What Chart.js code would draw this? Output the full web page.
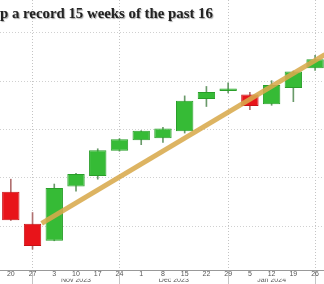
<!DOCTYPE html>
<html>
<head>
<meta charset="utf-8">
<script src="https://cdn.jsdelivr.net/npm/chart.js@4.4.0/dist/chart.umd.min.js"></script>
<style>
  body { margin: 0; background: #fff; }
  #wrap { position: relative; width: 324px; height: 284px; overflow: hidden; }
  #title {
    position: absolute; left: 0; top: 6px;
    font-family: 'Liberation Serif', 'Times New Roman', serif;
    font-weight: bold; font-size: 15px; line-height: 15px;
    color: #222; white-space: nowrap;
    text-shadow: 1px 1px 1px rgba(0,0,0,0.35);
  }
</style>
</head>
<body>
<div id="wrap">
  <canvas id="chart" width="324" height="284"></canvas>
  <div id="title">p a record 15 weeks of the past 16</div>
</div>
<script>
// weekly candles, Oct 20 2023 .. Jan 26 2024
const days = ['20', '27', '3', '10', '17', '24', '1', '8', '15', '22', '29', '5', '12', '19', '26'];
const opens  = [4342, 4210, 4139, 4364, 4407, 4512, 4555, 4564, 4593, 4726, 4759, 4745, 4704, 4772, 4853];
const closes = [4224, 4117, 4358, 4415, 4514, 4559, 4595, 4604, 4719, 4755, 4770, 4697, 4784, 4840, 4891];
const highs  = [4394, 4256, 4374, 4418, 4520, 4562, 4595, 4609, 4739, 4778, 4793, 4754, 4802, 4842, 4907];
const lows   = [4223, 4104, 4139, 4344, 4394, 4510, 4537, 4546, 4585, 4695, 4751, 4682, 4700, 4715, 4844];
const monthEnds = [1, 5, 10, 14];
const months = [{ at: 3, label: 'Nov 2023' }, { at: 7.5, label: 'Dec 2023' }, { at: 12, label: 'Jan 2024' }];
const trendX = [1.42, 14.45];
const trendY = [4211, 4910];

// fit the heading to the width it has in the picture
const title = document.getElementById('title');
const tw = title.getBoundingClientRect().width;
title.style.fontSize = (15 * 213 / tw).toFixed(2) + 'px';

const green = '#36bb36';
const red = '#e8141a';
const upDown = closes.map((c, i) => c >= opens[i]);

const bodies = days.map((d, i) => ({ x: i, y: [opens[i], closes[i]] }));
const wicks = days.map((d, i) => ({ x: i, y: [lows[i], highs[i]] }));
const trend = trendX.map((x, i) => ({ x: x, y: trendY[i] }));

const gridColor = ctx => monthEnds.includes(ctx.tick && ctx.tick.value) ? '#c4c4c4' : 'rgba(0,0,0,0)';

new Chart(document.getElementById('chart'), {
  type: 'bar',
  data: {
    datasets: [
      {
        type: 'line',
        data: trend,
        borderColor: 'rgba(216,170,76,0.88)',
        borderWidth: 5,
        pointRadius: 0,
        order: 0
      },
      {
        data: bodies,
        backgroundColor: upDown.map(u => u ? green : red),
        borderColor: upDown.map(u => u ? '#2a9f2a' : '#c81014'),
        borderWidth: 1,
        borderSkipped: false,
        grouped: false,
        barPercentage: 0.8,
        categoryPercentage: 1,
        order: 1
      },
      {
        data: wicks,
        backgroundColor: upDown.map(u => u ? '#6a9a6a' : '#b07070'),
        barThickness: 1,
        grouped: false,
        order: 2
      }
    ]
  },
  options: {
    responsive: false,
    animation: false,
    layout: { padding: 0, autoPadding: false },
    plugins: { legend: { display: false }, tooltip: { enabled: false } },
    scales: {
      x: {
        type: 'linear',
        offset: false,
        weight: 0,
        min: -0.497,
        max: 14.41,
        afterBuildTicks: axis => { axis.ticks = days.map((d, i) => ({ value: i })); },
        afterFit: axis => { axis.height = 8.7; },
        ticks: {
          callback: v => days[v],
          maxRotation: 0,
          autoSkip: false,
          padding: -13.7,
          color: '#555',
          font: { family: 'Liberation Sans', size: 7 }
        },
        grid: {
          offset: false,
          color: gridColor,
          tickColor: gridColor,
          tickLength: 14,
          tickBorderDash: []
        },
        border: { color: '#999', width: 1, dash: [1, 2] }
      },
      month: {
        type: 'linear',
        position: 'bottom',
        offset: false,
        weight: 1,
        min: -0.497,
        max: 14.41,
        afterBuildTicks: axis => { axis.ticks = months.map(m => ({ value: m.at })); },
        afterFit: axis => { axis.height = 5.3; },
        ticks: {
          callback: (v, i) => months[i].label,
          maxRotation: 0,
          autoSkip: false,
          padding: -2.9,
          color: '#555',
          font: { family: 'Liberation Sans', size: 7 }
        },
        grid: { display: false, drawTicks: false, offset: false },
        border: { display: false }
      },
      y: {
        min: 4018,
        max: 5136,
        ticks: { display: false, stepSize: 200, includeBounds: false },
        grid: { color: '#d0d0d0', drawTicks: false },
        border: { display: false, dash: [1, 2] }
      }
    }
  }
});
</script>
</body>
</html>
